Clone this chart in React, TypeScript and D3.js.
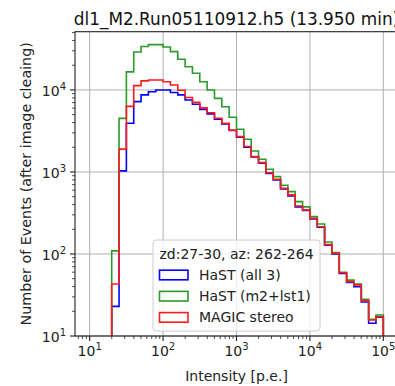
import React, { useEffect, useRef } from 'react';
import * as d3 from 'd3';

// log10 of the bin edges (20 p.e. ... 1e5 p.e.)
const binEdges = [
  1.3, 1.4, 1.5, 1.6, 1.7, 1.8, 1.9, 2.0, 2.1, 2.2, 2.3, 2.4, 2.5, 2.6, 2.7, 2.8, 2.9, 3.0, 3.1,
  3.2, 3.3, 3.4, 3.5, 3.6, 3.7, 3.8, 3.9, 4.0, 4.1, 4.2, 4.3, 4.4, 4.5, 4.6, 4.7, 4.8, 4.9, 5.0,
];

const hastAll3 = [
  23, 1030, 3930, 7200, 8700, 9500, 10000, 10000, 9300, 8700, 7550, 6700, 5800, 5100, 4400, 3850,
  3200, 2650, 2000, 1520, 1280, 960, 800, 620, 510, 375, 340, 268, 212, 128, 100, 58, 45, 40, 26,
  14.3, 17,
];
const hastM2Lst1 = [
  109, 4500, 16600, 29000, 33800, 35700, 35700, 33400, 29300, 23700, 19200, 16000, 12600, 10000,
  7900, 6250, 4640, 3310, 2500, 1800, 1430, 1080, 877, 690, 575, 435, 375, 285, 232, 140, 104, 60,
  48, 43, 28, 16, 18,
];
const magicStereo = [
  43, 1900, 6300, 11300, 12900, 13200, 13200, 12600, 11500, 9900, 8100, 7050, 6050, 5270, 4520,
  3930, 3240, 2700, 2040, 1540, 1300, 980, 815, 630, 525, 385, 345, 272, 215, 130, 102, 59, 46, 42,
  27, 15.7, 17.2,
];

const seriesNames = ['HaST (all 3)', 'HaST (m2+lst1)', 'MAGIC stereo'];
const seriesColors = ['#0000ff', '#2a9a2a', '#ff1a1a'];
const seriesData = [hastAll3, hastM2Lst1, magicStereo];

const xDecades = [1, 2, 3, 4, 5];
const yDecades = [1, 2, 3, 4];

const title = 'dl1_M2.Run05110912.h5 (13.950 min)';
const legendTitle = 'zd:27-30, az: 262-264';

const App = () => {
  const ref = useRef<SVGSVGElement>(null);

  useEffect(() => {
    const svg = d3.select(ref.current);
    svg.selectAll('*').remove();

    const W = 395;
    const H = 386;
    const left = 75;
    const right = 398;
    const top = 31.7;
    const bottom = 336;
    const font = 'DejaVu Sans, sans-serif';
    const fs = 14;

    const x = d3.scaleLog().domain([Math.pow(10, 0.8), Math.pow(10, 5.2)]).range([left, right]);
    const y = d3.scaleLog().domain([10, Math.pow(10, 4.71)]).range([bottom, top]);

    svg.attr('width', W).attr('height', H);

    svg.append('defs').append('clipPath').attr('id', 'plotclip')
      .append('rect').attr('x', left).attr('y', top).attr('width', right - left).attr('height', bottom - top);

    // grid
    const grid = svg.append('g');
    xDecades.forEach(d => {
      grid.append('line')
        .attr('x1', x(Math.pow(10, d))).attr('x2', x(Math.pow(10, d)))
        .attr('y1', top).attr('y2', bottom)
        .attr('stroke', '#b0b0b0').attr('stroke-width', 1);
    });
    yDecades.forEach(d => {
      grid.append('line')
        .attr('x1', left).attr('x2', right)
        .attr('y1', y(Math.pow(10, d))).attr('y2', y(Math.pow(10, d)))
        .attr('stroke', '#b0b0b0').attr('stroke-width', 1);
    });

    // step histograms
    const plot = svg.append('g').attr('clip-path', 'url(#plotclip)');
    seriesData.forEach((counts, si) => {
      const pts: [number, number][] = [];
      pts.push([x(Math.pow(10, binEdges[0])), bottom + 5]);
      counts.forEach((c, i) => {
        pts.push([x(Math.pow(10, binEdges[i])), y(c)]);
        pts.push([x(Math.pow(10, binEdges[i + 1])), y(c)]);
      });
      pts.push([x(Math.pow(10, binEdges[binEdges.length - 1])), bottom + 5]);
      plot.append('path')
        .attr('d', d3.line()(pts))
        .attr('fill', 'none')
        .attr('stroke', seriesColors[si])
        .attr('stroke-width', 1.6)
        .attr('stroke-linejoin', 'miter');
    });

    // spines
    svg.append('rect')
      .attr('x', left).attr('y', top).attr('width', right - left).attr('height', bottom - top)
      .attr('fill', 'none').attr('stroke', '#222').attr('stroke-width', 1.1);

    // x ticks
    const ax = svg.append('g');
    const xMinor: number[] = [];
    for (let d = 0; d <= 5; d++) for (let m = 2; m <= 9; m++) xMinor.push(m * Math.pow(10, d));
    xMinor.filter(v => x(v) >= left && x(v) <= right).forEach(v => {
      ax.append('line').attr('x1', x(v)).attr('x2', x(v)).attr('y1', bottom).attr('y2', bottom + 3)
        .attr('stroke', '#222').attr('stroke-width', 0.8);
    });
    xDecades.forEach(d => {
      const px = x(Math.pow(10, d));
      ax.append('line').attr('x1', px).attr('x2', px).attr('y1', bottom).attr('y2', bottom + 5)
        .attr('stroke', '#222').attr('stroke-width', 1.1);
      const t = ax.append('text').attr('x', px).attr('y', bottom + 20)
        .attr('text-anchor', 'middle').attr('font-family', font).attr('font-size', fs).attr('fill', '#222');
      t.append('tspan').text('10');
      t.append('tspan').attr('dy', -6).attr('font-size', 10).text(String(d));
    });

    // y ticks
    const yMinor: number[] = [];
    for (let d = 1; d <= 4; d++) for (let m = 2; m <= 9; m++) yMinor.push(m * Math.pow(10, d));
    yMinor.filter(v => y(v) >= top && y(v) <= bottom).forEach(v => {
      ax.append('line').attr('x1', left - 3).attr('x2', left).attr('y1', y(v)).attr('y2', y(v))
        .attr('stroke', '#222').attr('stroke-width', 0.8);
    });
    yDecades.forEach(d => {
      const py = y(Math.pow(10, d));
      ax.append('line').attr('x1', left - 5).attr('x2', left).attr('y1', py).attr('y2', py)
        .attr('stroke', '#222').attr('stroke-width', 1.1);
      const t = ax.append('text').attr('x', left - 9).attr('y', py + 6)
        .attr('text-anchor', 'end').attr('font-family', font).attr('font-size', fs).attr('fill', '#222');
      t.append('tspan').text('10');
      t.append('tspan').attr('dy', -6).attr('font-size', 10).text(String(d));
    });

    // labels
    svg.append('text').attr('x', (left + right) / 2).attr('y', 381)
      .attr('text-anchor', 'middle').attr('font-family', font).attr('font-size', fs).attr('fill', '#222')
      .text('Intensity [p.e.]');
    svg.append('text').attr('transform', `translate(31,${(top + bottom) / 2}) rotate(-90)`)
      .attr('text-anchor', 'middle').attr('font-family', font).attr('font-size', 14.3).attr('fill', '#222')
      .text('Number of Events (after image cleaing)');
    svg.append('text').attr('x', (left + right) / 2).attr('y', 25)
      .attr('text-anchor', 'middle').attr('font-family', font).attr('font-size', 16.9).attr('fill', '#111')
      .text(title);

    // legend
    const lg = svg.append('g');
    lg.append('rect').attr('x', 153).attr('y', 240).attr('width', 167).attr('height', 91).attr('rx', 3)
      .attr('fill', 'white').attr('fill-opacity', 0.8).attr('stroke', '#cccccc').attr('stroke-width', 1);
    lg.append('text').attr('x', 236.5).attr('y', 259)
      .attr('text-anchor', 'middle').attr('font-family', font).attr('font-size', fs).attr('fill', '#222')
      .text(legendTitle);
    seriesNames.forEach((name, i) => {
      const cy = 275 + i * 21.2;
      lg.append('rect').attr('x', 159.5).attr('y', cy - 4.8).attr('width', 28.5).attr('height', 9.6)
        .attr('fill', 'none').attr('stroke', seriesColors[i]).attr('stroke-width', 1.6);
      lg.append('text').attr('x', 199).attr('y', cy + 5)
        .attr('font-family', font).attr('font-size', fs).attr('fill', '#222').text(name);
    });
  }, []);

  return <svg ref={ref} style={{ position: 'absolute', left: 0, top: 0 }}></svg>;
};

export default App;
